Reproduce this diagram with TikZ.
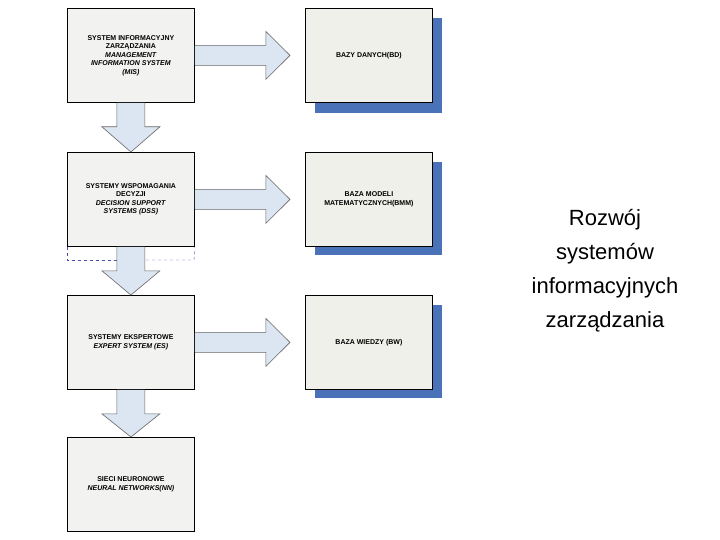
\documentclass[tikz,border=0pt]{standalone}
\usepackage{fontspec}
\setmainfont{Liberation Sans}
\begin{document}
\begin{tikzpicture}[x=1pt,y=-1pt,
 box/.style={draw=black,thick,fill=boxfill,minimum width=127pt,minimum height=94pt,anchor=north west,align=center,inner sep=2pt,font=\fontsize{7}{8.5}\selectfont\bfseries},
 rbox/.style={box,fill=boxfill2},
 shad/.style={fill=shblue,draw=none},
 arr/.style={fill=arrfill,draw=gray!80!black,line width=0.6pt}]
\definecolor{boxfill}{HTML}{F2F2F0}
\definecolor{boxfill2}{HTML}{F0F0EA}
\definecolor{shblue}{HTML}{4A72B8}
\definecolor{arrfill}{HTML}{DCE6F2}
\useasboundingbox (0,0) rectangle (720,540);
% left boxes
\node[box] (mis) at (67,8) {SYSTEM INFORMACYJNY\\ZARZĄDZANIA\\\textit{MANAGEMENT}\\\textit{INFORMATION SYSTEM}\\\textit{(MIS)}};
\node[box] (dss) at (67,152) {SYSTEMY WSPOMAGANIA\\DECYZJI\\\textit{DECISION SUPPORT}\\\textit{SYSTEMS (DSS)}};
\node[box] (es) at (67,295) {SYSTEMY EKSPERTOWE\\\textit{EXPERT SYSTEM (ES)}};
\node[box] (nn) at (67,437) {SIECI NEURONOWE\\\textit{NEURAL NETWORKS(NN)}};
% right boxes with shadows
\fill[shad] (315,18) rectangle (442,113);
\fill[shad] (315,162) rectangle (442,255);
\fill[shad] (315,305) rectangle (442,398);
\node[rbox] (bd) at (305,8) {BAZY DANYCH(BD)};
\node[rbox] (bmm) at (305,152) {BAZA MODELI\\MATEMATYCZNYCH(BMM)};
\node[rbox] (bw) at (305,295) {BAZA WIEDZY (BW)};
% dashed SIK frame
\draw[dashed,draw=gray!60!blue] (dss.south west) -- (67,260) -- (dss.south west |- 0,260) -- (120,260);
\draw[dashed,draw=gray!60!blue] (140,260) -- (194,260) -- (dss.south east);
\node[font=\fontsize{7}{8}\selectfont, inner sep=1pt] (sik) at (130,258) {SIK};
% down arrows
\foreach \a/\b in {mis/dss,dss/es,es/nn}{
 \path (\a.south) coordinate (t) (\b.north) coordinate (h);
 \draw[arr] ([xshift=-14pt]t) -- ([xshift=-14pt,yshift=-24pt]t) -- ([xshift=-29pt,yshift=-24pt]t) -- (h) -- ([xshift=29pt,yshift=-24pt]t) -- ([xshift=14pt,yshift=-24pt]t) -- ([xshift=14pt]t);
}
% right arrows
\foreach \a/\b in {mis/bd,dss/bmm,es/bw}{
 \path (\a.east) coordinate (t) ([xshift=-15pt]\b.west) coordinate (h);
 \draw[arr] ([yshift=-10pt]t) -- ([xshift=71pt,yshift=-10pt]t) -- ([xshift=71pt,yshift=-24pt]t) -- (h) -- ([xshift=71pt,yshift=24pt]t) -- ([xshift=71pt,yshift=10pt]t) -- ([yshift=10pt]t);
}
\node[align=center,font=\fontsize{22}{34}\selectfont] (title) at (605,271) {Rozwój\\systemów\\informacyjnych\\zarządzania};
\end{tikzpicture}
\end{document}
